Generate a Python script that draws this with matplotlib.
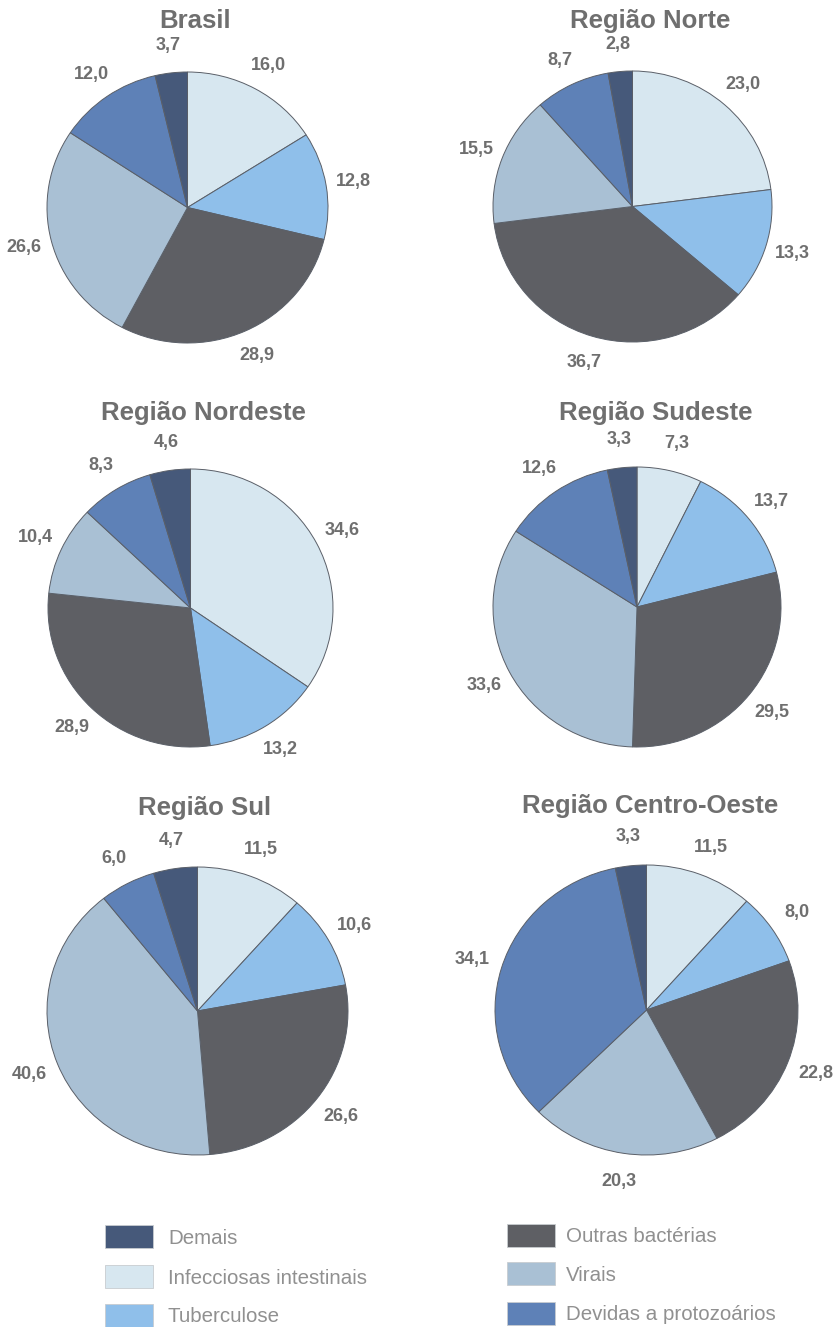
import matplotlib
matplotlib.use("Agg")
import matplotlib.pyplot as plt
from matplotlib.patches import Rectangle

# ---- data -------------------------------------------------------------
categories = ["Infecciosas intestinais", "Tuberculose", "Outras bactérias",
              "Virais", "Devidas a protozoários", "Demais"]
regions = ["Brasil", "Região Norte", "Região Nordeste",
           "Região Sudeste", "Região Sul", "Região Centro-Oeste"]

brasil = [16.0, 12.8, 28.9, 26.6, 12.0, 3.7]
norte = [23.0, 13.3, 36.7, 15.5, 8.7, 2.8]
nordeste = [34.6, 13.2, 28.9, 10.4, 8.3, 4.6]
sudeste = [7.3, 13.7, 29.5, 33.6, 12.6, 3.3]
sul = [11.5, 10.6, 26.6, 40.6, 6.0, 4.7]
centro_oeste = [11.5, 8.0, 22.8, 20.3, 34.1, 3.3]

legend_left = ["Demais", "Infecciosas intestinais", "Tuberculose"]
legend_right = ["Outras bactérias", "Virais", "Devidas a protozoários"]

# ---- style ------------------------------------------------------------
colors = {
    "Infecciosas intestinais": "#d7e7f0",
    "Tuberculose": "#8fbfea",
    "Outras bactérias": "#5e5f64",
    "Virais": "#a9c0d4",
    "Devidas a protozoários": "#5e81b7",
    "Demais": "#46597a",
}
TEXT_DARK = "#6f6f6f"
TEXT_LIGHT = "#909090"
FONT = "Liberation Sans"

W, H = 836, 1327
fig = plt.figure(figsize=(W / 100, H / 100), dpi=100)
fig.patch.set_facecolor("white")


def fx(x):
    return x / W


def fy(y):
    return 1 - y / H


def fmt(v):
    return f"{v:.1f}".replace(".", ",")


# pixel layout: centre x, centre y, radius x, radius y, title x, title baseline
layout = [
    (187.5, 207.5, 140.5, 135.5, 195, 28),
    (632.5, 206.5, 139.5, 135.5, 650, 28),
    (190.5, 608.0, 142.5, 139.0, 203, 420),
    (637.0, 607.0, 144.0, 140.0, 656, 420),
    (197.5, 1011.0, 150.5, 144.0, 205, 815),
    (646.5, 1010.0, 151.5, 145.0, 650, 813),
]
series = [brasil, norte, nordeste, sudeste, sul, centro_oeste]

for title, values, (cx, cy, rx, ry, tx, ty) in zip(regions, series, layout):
    ax = fig.add_axes([fx(cx - 1.25 * rx), fy(cy + 1.25 * ry),
                       2.5 * rx / W, 2.5 * ry / H])
    wedges, texts = ax.pie(
        values,
        colors=[colors[c] for c in categories],
        labels=[fmt(v) for v in values],
        labeldistance=1.2,
        startangle=90,
        counterclock=False,
        wedgeprops=dict(edgecolor="#5a5f68", linewidth=0.7),
        textprops=dict(fontsize=13, fontweight="bold", color=TEXT_DARK,
                       family=FONT),
    )
    for t in texts:
        t.set_ha("center")
        t.set_va("center")
    ax.set_xlim(-1.25, 1.25)
    ax.set_ylim(-1.25, 1.25)
    ax.set_aspect("auto")
    ax.axis("off")
    fig.text(fx(tx), fy(ty), title, ha="center", va="baseline",
             fontsize=18.5, fontweight="bold", color=TEXT_DARK, family=FONT)

# ---- legend -----------------------------------------------------------
def legend_column(names, box_x, text_x, rows):
    for name, yc in zip(names, rows):
        fig.patches.append(Rectangle(
            (fx(box_x), fy(yc + 11.5)), 48 / W, 23 / H,
            transform=fig.transFigure, facecolor=colors[name],
            edgecolor="#c8ccd0", linewidth=0.6))
        fig.text(fx(text_x), fy(yc + 7.5), name, ha="left", va="baseline",
                 fontsize=14.8, color=TEXT_LIGHT, family=FONT)


legend_column(legend_left, 105, 168, [1236.5, 1276, 1315])
legend_column(legend_right, 507, 566, [1235, 1273.5, 1313])

fig.savefig("out.png", dpi=100, facecolor="white")
